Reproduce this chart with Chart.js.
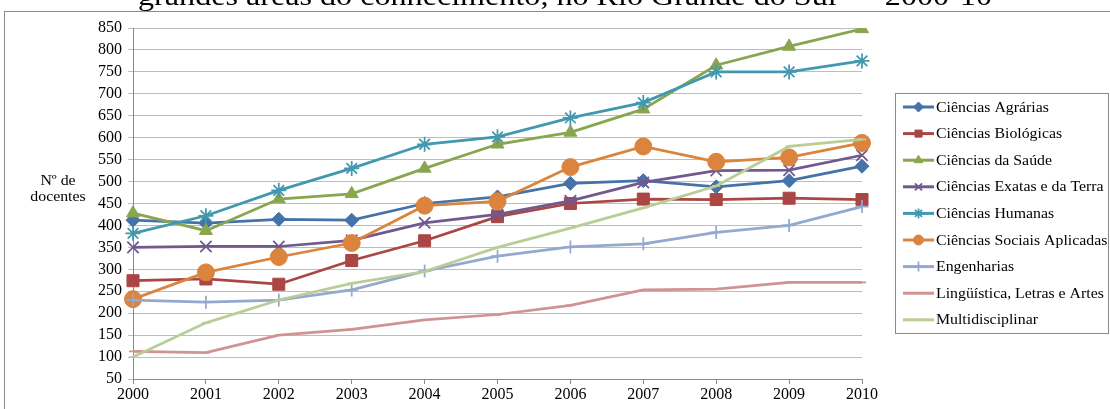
<!DOCTYPE html>
<html>
<head>
<meta charset="utf-8">
<script src="https://cdn.jsdelivr.net/npm/chart.js@4.4.0/dist/chart.umd.min.js"></script>
<style>
  html, body { margin: 0; padding: 0; background: #fff; }
  #wrap { width: 1110px; height: 409px; position: relative; }
</style>
</head>
<body>
<div id="wrap"><canvas id="myChart" width="1110" height="409"></canvas></div>
<script>
  const years = ['2000', '2001', '2002', '2003', '2004', '2005', '2006', '2007', '2008', '2009', '2010'];
  const seriesNames = [
    'Ciências Agrárias',
    'Ciências Biológicas',
    'Ciências da Saúde',
    'Ciências Exatas e da Terra',
    'Ciências Humanas',
    'Ciências Sociais Aplicadas',
    'Engenharias',
    'Lingüística, Letras e Artes',
    'Multidisciplinar'
  ];
  const agrarias    = [412, 405, 414, 412, 450, 465, 496, 502, 488, 502, 535];
  const biologicas  = [274, 278, 266, 320, 365, 420, 450, 460, 459, 462, 459];
  const saude       = [428, 388, 460, 472, 530, 585, 612, 665, 765, 808, 848];
  const exatas      = [350, 352, 352, 366, 406, 425, 456, 498, 525, 526, 560];
  const humanas     = [382, 422, 480, 530, 585, 602, 645, 680, 750, 750, 775];
  const sociais     = [232, 293, 328, 360, 445, 455, 533, 580, 545, 555, 588];
  const engenharias = [230, 225, 230, 253, 296, 330, 351, 358, 384, 400, 443];
  const linguistica = [113, 110, 150, 163, 185, 197, 218, 253, 255, 270, 270];
  const multi       = [100, 178, 230, 268, 295, 350, 394, 440, 490, 580, 596];
  const yTicks = [50, 850, 50]; // min, max, step

  const allValues = [agrarias, biologicas, saude, exatas, humanas, sociais, engenharias, linguistica, multi];
  const colors = ['#4572A7', '#AA4643', '#89A54E', '#71588F', '#4198AF', '#DB843D', '#93A9CF', '#D19392', '#B9CD96'];
  const styles = ['rectRot', 'rect', 'triangle', 'crossRot', 'star', 'circle', 'cross', 'line', 'line'];
  const radii  = [7, 8.5, 7.5, 8, 7.5, 8.5, 6.5, 4, 4];

  const serif = '"Liberation Serif", "DejaVu Serif", serif';

  const datasets = allValues.map(function(vals, i){
    const thin = ['crossRot', 'star', 'cross', 'line'].indexOf(styles[i]) >= 0;
    return {
      label: seriesNames[i],
      data: vals,
      borderColor: colors[i],
      backgroundColor: colors[i],
      borderWidth: 2.75,
      pointStyle: styles[i],
      pointRadius: radii[i],
      pointBorderWidth: thin ? 1.75 : 1,
      tension: 0,
      order: 9 - i
    };
  });

  // text stretched sideways a little, the way the source picture is
  function wideText(ctx, txt, x, y, sx){
    ctx.save();
    ctx.translate(x, y);
    ctx.scale(sx, 1);
    ctx.fillText(txt, 0, 0);
    ctx.restore();
  }

  // frame, cut-off title, axis title and the legend box on the right
  const extras = {
    id: 'extras',
    afterDraw(chart){
      const ctx = chart.ctx;
      ctx.save();
      ctx.strokeStyle = '#8a8a8a';
      ctx.lineWidth = 1;
      ctx.strokeRect(4.5, 11.5, 1120, 420);

      ctx.fillStyle = '#000';
      ctx.font = '27px ' + serif;
      ctx.textAlign = 'center';
      ctx.textBaseline = 'alphabetic';
      wideText(ctx, 'grandes áreas do conhecimento, no Rio Grande do Sul \u2014 2000-10', 565, 5, 1.19);

      ctx.font = '14px ' + serif;
      ctx.textBaseline = 'middle';
      wideText(ctx, 'Nº de', 58, 181, 1.13);
      wideText(ctx, 'docentes', 58, 197, 1.13);

      // legend
      ctx.strokeStyle = '#8a8a8a';
      ctx.lineWidth = 1;
      ctx.strokeRect(895.5, 93.5, 213, 240);
      ctx.textAlign = 'left';
      chart.data.datasets.forEach(function(ds, i){
        const y = 107 + i * 26.6;
        ctx.strokeStyle = ds.borderColor;
        ctx.lineWidth = 3;
        ctx.beginPath();
        ctx.moveTo(903, y);
        ctx.lineTo(934, y);
        ctx.stroke();
        ctx.fillStyle = ds.backgroundColor;
        ctx.lineWidth = ds.pointBorderWidth;
        Chart.helpers.drawPoint(ctx, {pointStyle: ds.pointStyle, radius: Math.min(ds.pointRadius, 5), rotation: 0, borderWidth: ds.pointBorderWidth}, 918.5, y);
        ctx.fillStyle = '#000';
        wideText(ctx, ds.label, 936, y + 1, 1.13);
      });
      ctx.restore();
    }
  };

  const ctx = document.getElementById('myChart').getContext('2d');
  const myChart = new Chart(ctx, {
    type: 'line',
    data: {
      labels: years,
      datasets: datasets
    },
    options: {
      responsive: false,
      animation: false,
      devicePixelRatio: 1,
      layout: { padding: { left: 0, right: 248, top: 28, bottom: 0 } },
      plugins: {
        legend: { display: false },
        tooltip: { enabled: false }
      },
      scales: {
        x: {
          offset: false,
          grid: { display: true, drawOnChartArea: false, color: '#8a8a8a', tickLength: 5 },
          border: { color: '#8a8a8a' },
          ticks: { color: '#000', font: { family: serif, size: 16 }, padding: 1, maxRotation: 0, autoSkip: false },
          afterFit(scale){ scale.height = 30; }
        },
        y: {
          min: yTicks[0],
          max: yTicks[1],
          grid: { color: '#bdbdbd', tickLength: 5 },
          border: { color: '#8a8a8a' },
          ticks: { stepSize: yTicks[2], color: '#000', font: { family: serif, size: 16 }, padding: 6, autoSkip: false },
          afterFit(scale){ scale.width = 133; }
        }
      }
    },
    plugins: [extras]
  });
</script>
</body>
</html>
